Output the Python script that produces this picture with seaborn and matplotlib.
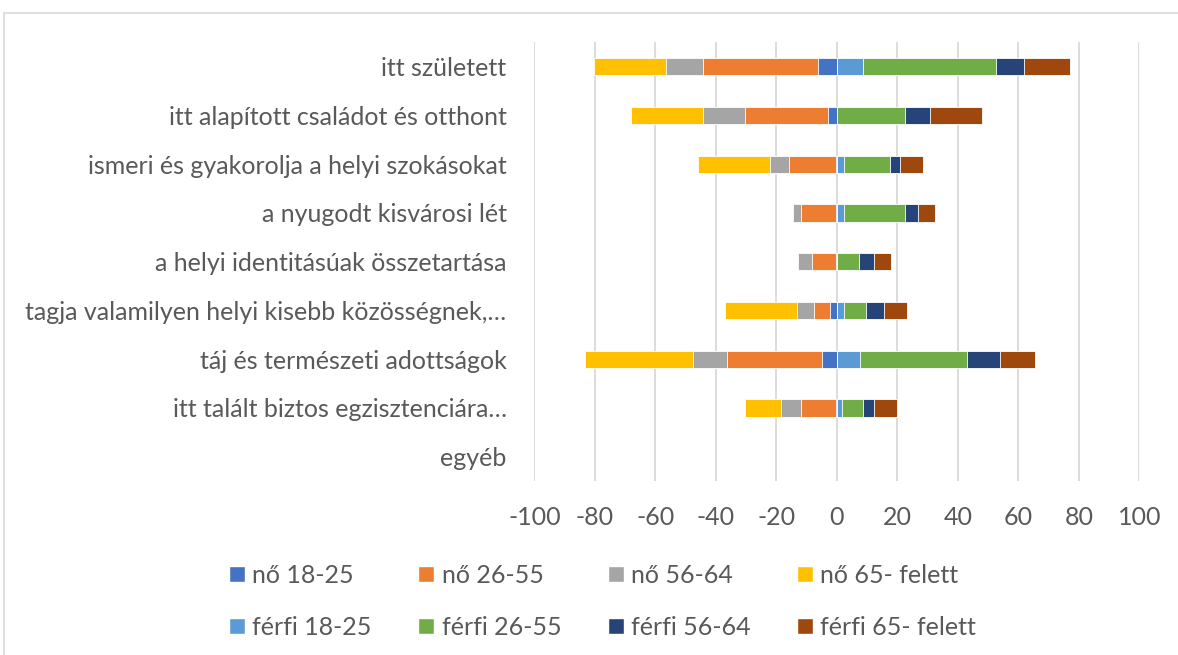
import numpy as np
import matplotlib
matplotlib.use('Agg')
from matplotlib import pyplot as plt
from matplotlib.patches import Patch
from matplotlib.lines import Line2D
import seaborn as sns

# answer categories, top to bottom
categories = [
    'itt született',
    'itt alapított családot és otthont',
    'ismeri és gyakorolja a helyi szokásokat',
    'a nyugodt kisvárosi lét',
    'a helyi identitásúak összetartása',
    'tagja valamilyen helyi kisebb közösségnek,…',
    'táj és természeti adottságok',
    'itt talált biztos egzisztenciára…',
    'egyéb',
]

# women (drawn to the left of zero)
no_18_25 = [6.1, 3.0, 0.4, 0.3, 0.3, 2.3, 4.9, 0.3, 0]
no_26_55 = [38.3, 27.5, 15.3, 11.5, 7.9, 5.3, 31.5, 11.6, 0]
no_56_64 = [12.2, 13.6, 6.5, 2.7, 4.7, 5.7, 11.2, 6.6, 0]
no_65 = [23.6, 24.0, 23.8, 0, 0, 23.7, 35.6, 11.8, 0]

# men (drawn to the right of zero)
ferfi_18_25 = [8.8, 0, 2.4, 2.4, 0, 2.4, 7.8, 1.7, 0]
ferfi_26_55 = [43.7, 22.4, 15.3, 20.0, 7.3, 7.2, 35.1, 7.1, 0]
ferfi_56_64 = [9.4, 8.4, 3.3, 4.3, 5.1, 5.9, 11.0, 3.4, 0]
ferfi_65 = [15.1, 17.3, 7.6, 5.7, 5.6, 7.7, 11.5, 7.6, 0]

women = [('nő 18-25', no_18_25, '#4472C4'),
         ('nő 26-55', no_26_55, '#ED7D31'),
         ('nő 56-64', no_56_64, '#A5A5A5'),
         ('nő 65- felett', no_65, '#FFC000')]
men = [('férfi 18-25', ferfi_18_25, '#5B9BD5'),
       ('férfi 26-55', ferfi_26_55, '#70AD47'),
       ('férfi 56-64', ferfi_56_64, '#264478'),
       ('férfi 65- felett', ferfi_65, '#9E480E')]

xticks = list(range(-100, 101, 20))

sns.set_theme(style='white')
plt.rcParams['font.family'] = ['Lato', 'DejaVu Sans']
text_color = '#595959'

fig = plt.figure(figsize=(11.78, 6.55), dpi=100)
ax = fig.add_axes([0.4536, 0.2656, 0.5136, 0.6698])

# stacked bars: draw cumulative totals from the outside in
for side, sign in ((women, -1), (men, 1)):
    cum = np.cumsum([s[1] for s in side], axis=0) * sign
    for i in range(len(side) - 1, -1, -1):
        sns.barplot(x=cum[i], y=categories, color=side[i][2], orient='h',
                    width=0.355, errorbar=None, saturation=1,
                    edgecolor='white', linewidth=0.6, ax=ax)

# no white outline on empty bars (keeps the zero gridline intact)
for bar in ax.patches:
    if bar.get_width() == 0:
        bar.set_linewidth(0)

ax.set_xlim(-100, 100)
ax.set_ylim(8.5, -0.5)
ax.set_xticks(xticks)
ax.set_xticklabels([str(t) for t in xticks])
ax.set_xlabel('')
ax.set_ylabel('')
ax.set_axisbelow(True)
ax.grid(True, axis='x', color='#D9D9D9', linewidth=1.3)
ax.grid(False, axis='y')
for sp in ax.spines.values():
    sp.set_visible(False)
ax.tick_params(axis='x', length=0, pad=18, labelsize=18, labelcolor=text_color)
ax.tick_params(axis='y', length=0, pad=20, labelsize=18, labelcolor=text_color)

# legend: two rows, women on top, men below
handles = []
for w, m in zip(women, men):
    handles.append(Patch(facecolor=w[2], label=w[0]))
    handles.append(Patch(facecolor=m[2], label=m[0]))
fig.legend(handles=handles, ncol=4, loc='upper left',
           bbox_to_anchor=(229 / 1178, 1 - 564 / 655), frameon=False,
           fontsize=18, labelcolor=text_color, handlelength=0.64,
           handleheight=0.64, handletextpad=0.3, columnspacing=1.85,
           labelspacing=1.15, borderpad=0, borderaxespad=0)

# chart area border
fig.add_artist(Line2D([4 / 1178, 1], [1 - 13 / 655] * 2, color='#D9D9D9', lw=1.2))
fig.add_artist(Line2D([4 / 1178] * 2, [0, 1 - 13 / 655], color='#D9D9D9', lw=1.2))

fig.savefig('out.png', dpi=100)
